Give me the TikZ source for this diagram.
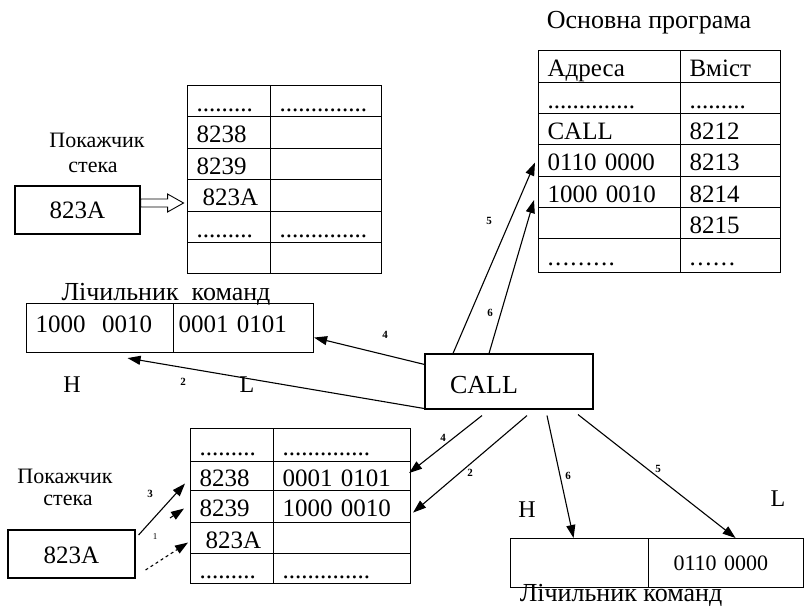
\documentclass[tikz,border=0pt]{standalone}
\usepackage{fontspec}
\setmainfont{Liberation Serif}
\usetikzlibrary{arrows.meta,calc}
\newcommand\fs{\fontsize{25}{29}\selectfont}
\newcommand\lfs{\fontsize{22}{26}\selectfont}
\newcommand\hfs{\fontsize{24}{28}\selectfont}
\newcommand\tfs{\fontsize{26}{30}\selectfont}
\newcommand\nfs{\fontsize{11}{12}\selectfont\bfseries}
\newcommand\cel[6]{\pgfmathsetmacro\celtw{#4-18}\node[cell, text width=\celtw pt, minimum height=#5pt] (#1) at (#2,#3) {#6};}
\begin{document}
\begin{tikzpicture}[x=1pt,y=-1pt,
  cell/.style={draw, line width=1.1pt, anchor=north west, inner xsep=9pt, inner ysep=0pt,
    align=left, text height=21pt, text depth=1pt, font=\fs},
  box/.style={draw, line width=1.1pt, inner sep=0pt, font=\fs, align=center},
  lbl/.style={font=\lfs, anchor=base, inner sep=0pt},
  hl/.style={font=\hfs, anchor=base, inner sep=0pt},
  ttl/.style={font=\tfs, anchor=base, inner sep=0pt},
  num/.style={font=\nfs, inner sep=0pt},
  arr/.style={line width=1.1pt, -{Triangle[length=13pt,width=9pt]}}]
\useasboundingbox (0,0) rectangle (805,607);

% ---- top-left stack table
\cel{tl1a}{187}{85}{83}{31}{.........}
\cel{tl1b}{270}{85}{111}{31}{..............}
\cel{tl2a}{187}{116}{83}{32}{8238}
\cel{tl2b}{270}{116}{111}{32}{}
\cel{tl3a}{187}{148}{83}{31}{8239}
\cel{tl3b}{270}{148}{111}{31}{}
\cel{tl4a}{187}{179}{83}{32}{\hspace*{6pt}823A}
\cel{tl4b}{270}{179}{111}{32}{}
\cel{tl5a}{187}{211}{83}{31}{.........}
\cel{tl5b}{270}{211}{111}{31}{..............}
\cel{tl6a}{187}{242}{83}{31}{}
\cel{tl6b}{270}{242}{111}{31}{}

\node[lbl] (sp1t1) at (97,147) {Покажчик};
\node[lbl] (sp1t2) at (93,172) {стека};
\node[box, minimum width=125pt, minimum height=48pt, text height=18pt, text depth=2pt] (sp1) at (77.5,210) {823A};
\coordinate (oa) at ([yshift=7pt]sp1.east);
\draw[line width=0.9pt] (oa) ++(0,-4) -- ++(27,0) -- ++(0,-5) -- ++(16,9) -- ++(-16,9) -- ++(0,-5) -- ++(-27,0) -- cycle;

% ---- main program table
\node[ttl] (title) at (649,29) {Основна програма};
\cel{tr1a}{538}{50}{142}{32}{Адреса}
\cel{tr1b}{680}{50}{100}{32}{Вміст}
\cel{tr2a}{538}{82}{142}{31}{..............}
\cel{tr2b}{680}{82}{100}{31}{.........}
\cel{tr3a}{538}{113}{142}{31}{CALL}
\cel{tr3b}{680}{113}{100}{31}{8212}
\cel{tr4a}{538}{144}{142}{32}{0110 0000}
\cel{tr4b}{680}{144}{100}{32}{8213}
\cel{tr5a}{538}{176}{142}{31}{1000 0010}
\cel{tr5b}{680}{176}{100}{31}{8214}
\cel{tr6a}{538}{207}{142}{31}{}
\cel{tr6b}{680}{207}{100}{31}{8215}
\cel{tr7a}{538}{238}{142}{34}{.\kern1.4pt.\kern1.4pt.\kern1.4pt.\kern1.4pt.\kern1.4pt.\kern1.4pt.\kern1.4pt.\kern1.4pt.}
\cel{tr7b}{680}{238}{100}{34}{.\kern1.6pt.\kern1.6pt.\kern1.6pt.\kern1.6pt.\kern1.6pt.}

% ---- top program counter
\node[ttl] (pct) at (166,300) {Лічильник\ \ команд};
\node[cell, text width=129pt, minimum height=49pt, text height=17pt, text depth=8pt] (pcL) at (26,303) {1000\ \ 0010};
\node[cell, text width=122pt, minimum height=49pt, text height=17pt, text depth=8pt] (pcR) at (173,303) {\hspace*{-4pt}0001 0101};
\node[hl] (h1) at (72,392) {H};
\node[hl] (l1) at (247,392) {L};

% ---- CALL
\node[draw, line width=1.1pt, minimum width=168pt, minimum height=55pt, inner xsep=25pt, inner ysep=0pt,
  text width=118pt, align=left, text height=24pt, text depth=1pt, font=\fontsize{26}{30}\selectfont] (call) at (509,381.5) {CALL};

% ---- bottom stack table
\cel{bs1a}{190}{428}{83}{33}{.........}
\cel{bs1b}{273}{428}{137}{33}{..............}
\cel{bs2a}{190}{461}{83}{29}{8238}
\cel{bs2b}{273}{461}{137}{29}{0001 0101}
\cel{bs3a}{190}{490}{83}{32}{8239}
\cel{bs3b}{273}{490}{137}{32}{1000 0010}
\cel{bs4a}{190}{522}{83}{31}{\hspace*{6pt}823A}
\cel{bs4b}{273}{522}{137}{31}{}
\cel{bs5a}{190}{553}{83}{30}{.........}
\cel{bs5b}{273}{553}{137}{30}{..............}

\node[lbl] (sp2t1) at (65,483) {Покажчик};
\node[lbl] (sp2t2) at (68,505) {стека};
\node[box, minimum width=127pt, minimum height=48pt, text height=19pt, text depth=1pt] (sp2) at (71.5,554) {823A};

% ---- bottom program counter
\node[cell, text width=120pt, minimum height=49pt, text height=19pt, text depth=4pt] (pbL) at (510,538) {};
\node[cell, text width=137pt, minimum height=49pt, text height=19pt, text depth=4pt, font=\lfs] (pbR) at (648,538) {\hspace*{16pt}0110 0000};
\node[hl] (h2) at (527,517) {H};
\node[hl] (l2) at (778,506) {L};
\node[ttl] (pcb) at (621,601) {Лічильник команд};

% ---- connectors
\draw[arr] ([yshift=-11pt]call.north west) -- ([yshift=-9.5pt]pcR.east);
\node[num] (n4a) at (385,335) {4};
\draw[arr] ([yshift=1pt]call.south west) -- ([xshift=27.5pt,yshift=-5pt]pcL.south);
\node[num] (n2a) at (183,382) {2};
\draw[arr] ([xshift=-56pt]call.north) -- ([xshift=-3pt,yshift=-2pt]tr4a.west);
\node[num] (n5a) at (489,221) {5};
\draw[arr] ([xshift=-20pt]call.north) -- ([xshift=-4pt,yshift=-8pt]tr5a.west);
\node[num] (n6a) at (490,313) {6};
\draw[arr] ([xshift=-27pt,yshift=-6pt]call.south) -- ([xshift=-2pt,yshift=3pt]bs2b.east);
\node[num] (n4b) at (443,438) {4};
\draw[arr] ([xshift=18pt,yshift=-6pt]call.south) -- ([xshift=2pt,yshift=-6pt]bs3b.east);
\node[num] (n2b) at (470,473) {2};
\draw[arr] ([xshift=38pt,yshift=-6pt]call.south) -- ([xshift=-6pt]pbL.north);
\node[num] (n6b) at (568,476) {6};
\draw[arr] ([xshift=69pt,yshift=-5pt]call.south) -- ([xshift=9.5pt]pbR.north);
\node[num] (n5b) at (658,469) {5};

\draw[arr] ([xshift=3pt,yshift=19pt]sp2.east) -- ([xshift=-5pt,yshift=-7.5pt]bs2a.west);
\node[num] (n3) at (150,494) {3};
\coordinate (s1) at (170,518);
\draw[arr] (s1) -- ([xshift=-6pt,yshift=-2pt]bs3a.west);
\node[num, font=\fontsize{9}{10}\selectfont] (n1) at (155,537) {1};
\draw[arr, dashed] ([xshift=10pt,yshift=-16pt]sp2.east) -- ([xshift=-2pt,yshift=-4.5pt]bs4a.west);
\end{tikzpicture}
\end{document}
